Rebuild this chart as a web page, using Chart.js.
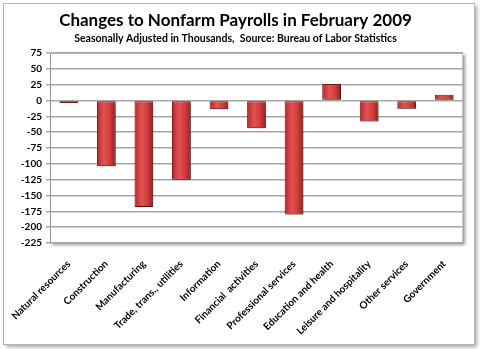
<!DOCTYPE html>
<html>
<head>
<meta charset="utf-8">
<script src="https://cdn.jsdelivr.net/npm/chart.js@4/dist/chart.umd.min.js"></script>
<style>
  html, body { margin: 0; padding: 0; background: #ffffff; }
  #wrap { width: 480px; height: 349px; position: relative; }
</style>
</head>
<body>
<div id="wrap"><canvas id="c"></canvas></div>
<script>
// Industry sectors and their February 2009 change in payrolls (thousands)
const categories = [
  'Natural resources', 'Construction', 'Manufacturing', 'Trade, trans., utilities',
  'Information', 'Financial  activities', 'Professional services', 'Education and health',
  'Leisure and hospitality', 'Other services', 'Government'
];
const payrollChange = [-4, -104, -168, -125, -14, -44, -180, 26, -33, -13, 9];
const yMin = -225;
const yMax = 75;
const yStep = 25;

const FONT = 'Lato, "Open Sans", "DejaVu Sans", sans-serif';
const BAR_RATIO = 0.5;

// Horizontal gradient per bar gives the rounded, lit-from-the-left look
function barFill(ctx) {
  const chart = ctx.chart;
  const area = chart.chartArea;
  const xs = chart.scales.x;
  if (!area || !xs || ctx.type !== 'data') return '#c83a3a';
  const cx = xs.getPixelForValue(ctx.dataIndex);
  const bw = (area.right - area.left) / categories.length * BAR_RATIO;
  const g = chart.ctx.createLinearGradient(cx - bw / 2, 0, cx + bw / 2, 0);
  g.addColorStop(0, '#8c1d1d');
  g.addColorStop(0.12, '#c73636');
  g.addColorStop(0.38, '#e35252');
  g.addColorStop(0.7, '#cf3c3c');
  g.addColorStop(0.9, '#a82828');
  g.addColorStop(1, '#7e1818');
  return g;
}

// Outer card and plot box, each with a soft drop shadow
const framePlugin = {
  id: 'frame',
  beforeDraw(chart) {
    const c = chart.ctx;
    const a = chart.chartArea;
    c.save();
    c.shadowColor = 'rgba(0,0,0,0.35)';
    c.shadowBlur = 4;
    c.shadowOffsetX = 2;
    c.shadowOffsetY = 2;
    c.fillStyle = '#ffffff';
    c.fillRect(3.5, 3.5, 471, 341);
    c.restore();
    c.save();
    c.strokeStyle = '#b4b4b4';
    c.lineWidth = 1;
    c.strokeRect(3.5, 3.5, 471, 341);
    c.restore();

    c.save();
    c.shadowColor = 'rgba(0,0,0,0.4)';
    c.shadowBlur = 3;
    c.shadowOffsetX = 2;
    c.shadowOffsetY = 2;
    c.fillStyle = '#ffffff';
    c.fillRect(a.left, a.top, a.right - a.left, a.bottom - a.top);
    c.restore();
    c.save();
    c.strokeStyle = '#c4c4c4';
    c.lineWidth = 1;
    c.strokeRect(a.left + 0.5, a.top + 0.5, a.right - a.left - 1, a.bottom - a.top - 1);
    c.restore();
  }
};

// Drop shadow under the bars
const barShadowPlugin = {
  id: 'barShadow',
  beforeDatasetsDraw(chart) {
    const c = chart.ctx;
    c.save();
    c.shadowColor = 'rgba(0,0,0,0.35)';
    c.shadowBlur = 3;
    c.shadowOffsetX = 2;
    c.shadowOffsetY = 2;
  },
  afterDatasetsDraw(chart) {
    chart.ctx.restore();
  }
};

new Chart(document.getElementById('c'), {
  type: 'bar',
  data: {
    labels: categories,
    datasets: [{
      data: payrollChange,
      backgroundColor: barFill,
      borderColor: '#7a1616',
      borderWidth: 1,
      borderSkipped: false,
      barPercentage: BAR_RATIO,
      categoryPercentage: 1
    }]
  },
  options: {
    responsive: true,
    maintainAspectRatio: false,
    animation: false,
    layout: { padding: { left: 8, right: 17, top: 0, bottom: 12 } },
    plugins: {
      legend: { display: false },
      tooltip: { enabled: false },
      title: {
        display: true,
        text: 'Changes to Nonfarm Payrolls in February 2009',
        color: '#000000',
        font: { family: FONT, size: 17, weight: 'bold' },
        padding: { top: 10, bottom: 2 }
      },
      subtitle: {
        display: true,
        text: 'Seasonally Adjusted in Thousands,  Source: Bureau of Labor Statistics',
        color: '#000000',
        font: { family: FONT, size: 10.5, weight: 'bold' },
        padding: { top: 0, bottom: 8 }
      }
    },
    scales: {
      x: {
        afterFit(scale) { scale.height = 94; },
        grid: { display: false },
        border: { display: false },
        ticks: {
          color: '#000000',
          font: { family: FONT, size: 10, weight: 'bold' },
          minRotation: 45,
          maxRotation: 45,
          autoSkip: false,
          padding: 7
        }
      },
      y: {
        min: yMin,
        max: yMax,
        afterFit(scale) { scale.width = 42; },
        grid: {
          color: '#a6a6a6',
          lineWidth: 1.5,
          tickLength: 4,
          drawTicks: true
        },
        border: { display: true, color: '#9a9a9a', width: 1 },
        ticks: {
          stepSize: yStep,
          color: '#000000',
          font: { family: FONT, size: 10, weight: 'bold' },
          padding: 4
        }
      }
    }
  },
  plugins: [framePlugin, barShadowPlugin]
});
</script>
</body>
</html>
